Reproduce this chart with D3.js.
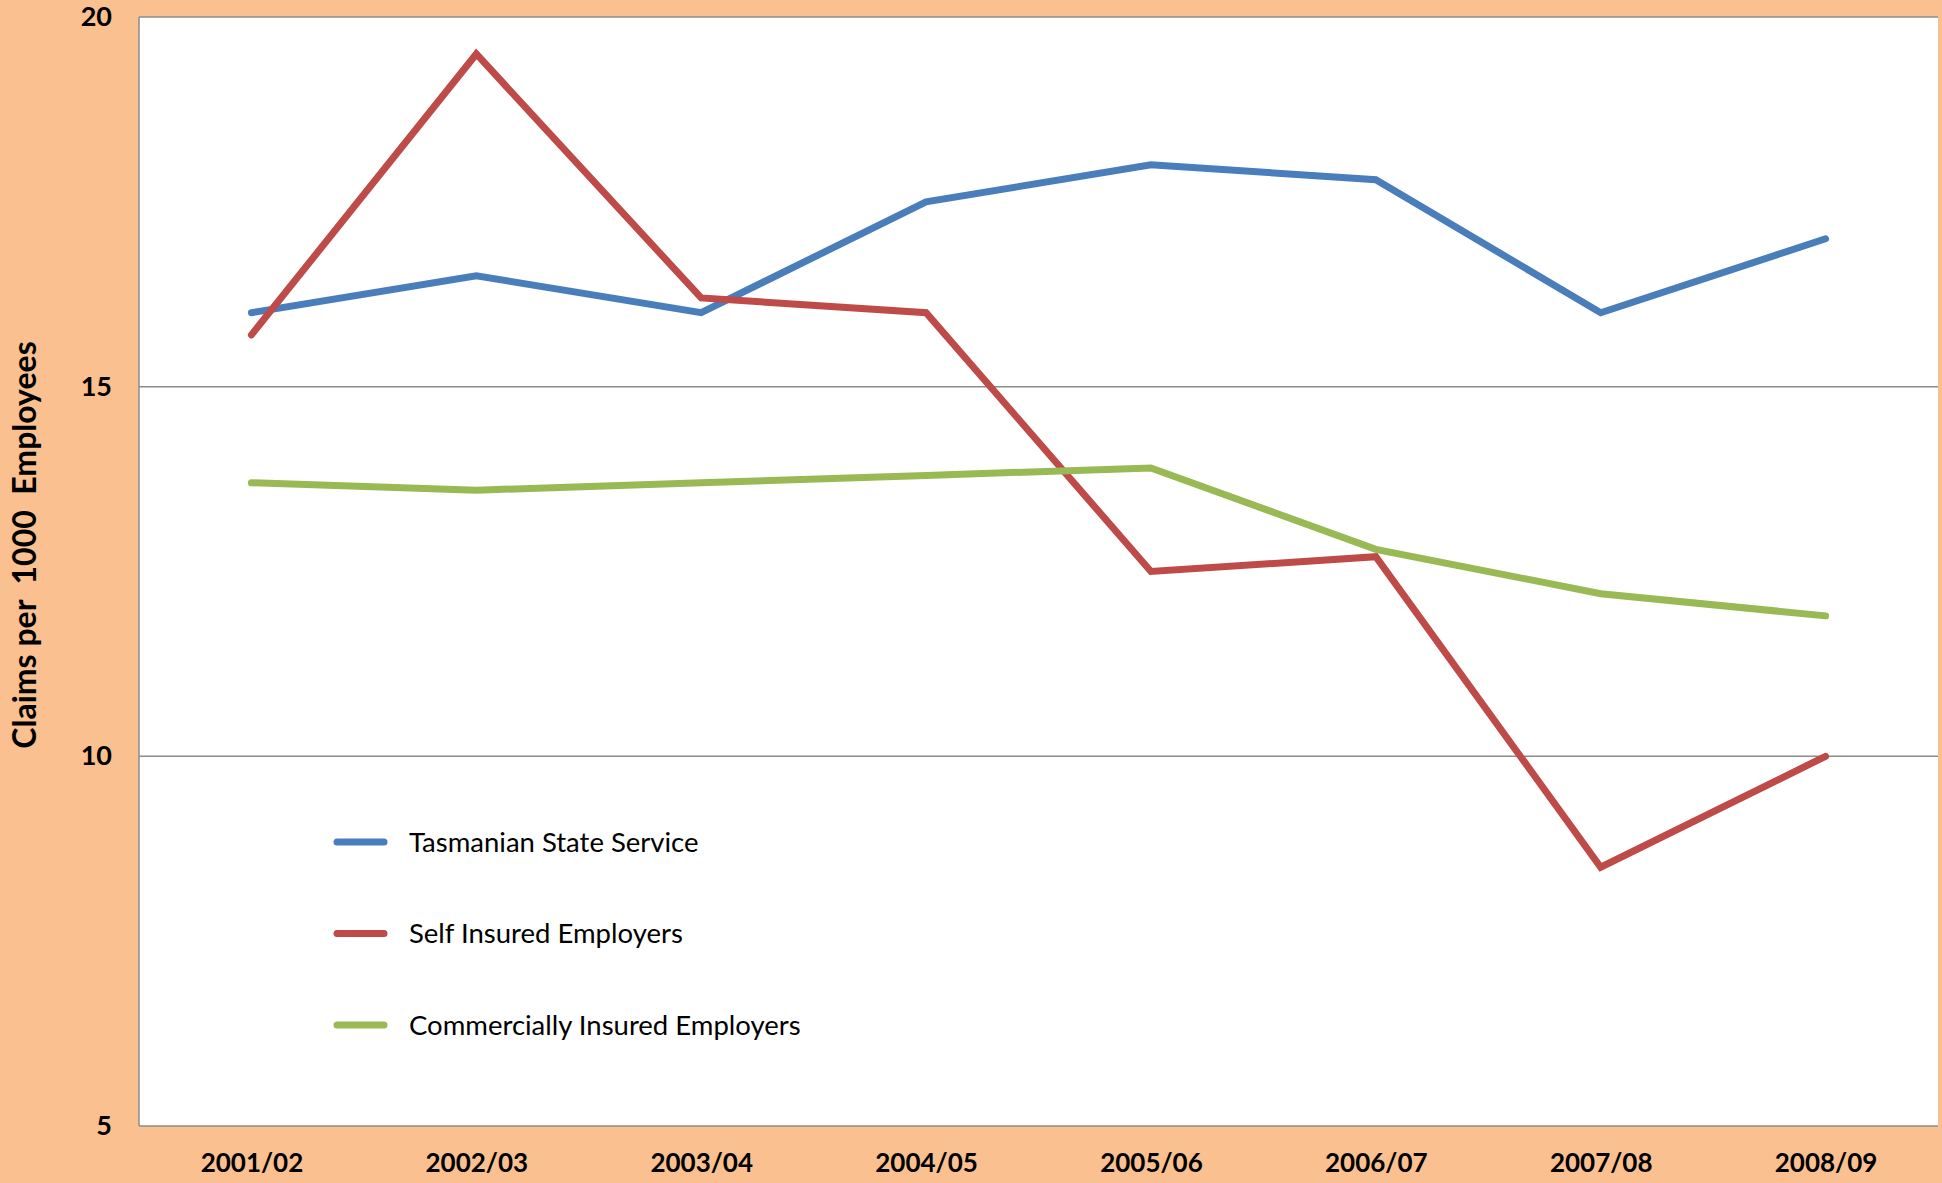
<!DOCTYPE html>
<html>
<head>
<meta charset="utf-8">
<script src="https://cdn.jsdelivr.net/npm/d3@7"></script>
<style>
  body { margin: 0; background: #fac090; }
  svg { display: block; }
  text { font-family: Lato, "Open Sans", sans-serif; fill: #000; }
</style>
</head>
<body>
<div id="chart"></div>
<script>
// data
var years = ["2001/02", "2002/03", "2003/04", "2004/05", "2005/06", "2006/07", "2007/08", "2008/09"];
var stateService = [16.0, 16.5, 16.0, 17.5, 18.0, 17.8, 16.0, 17.0];
var selfInsured = [15.7, 19.5, 16.2, 16.0, 12.5, 12.7, 8.5, 10.0];
var commercial = [13.7, 13.6, 13.7, 13.8, 13.9, 12.8, 12.2, 11.9];
var seriesNames = ["Tasmanian State Service", "Self Insured Employers", "Commercially Insured Employers"];
var yTicks = [5, 10, 15, 20];

var colors = ["#4a7ebb", "#be4b48", "#98b954"];
var allSeries = [stateService, selfInsured, commercial];

var svgWidth = 1942;
var svgHeight = 1183;
var plot = { left: 139, right: 1938, top: 17, bottom: 1126 };

var svg = d3.select("#chart")
  .append("svg")
  .attr("width", svgWidth)
  .attr("height", svgHeight);

svg.append("rect")
  .attr("width", svgWidth)
  .attr("height", svgHeight)
  .attr("fill", "#fac090");

svg.append("rect")
  .attr("x", plot.left)
  .attr("y", plot.top)
  .attr("width", plot.right - plot.left)
  .attr("height", plot.bottom - plot.top)
  .attr("fill", "#fff");

var x = d3.scalePoint()
  .domain(years)
  .range([plot.left, plot.right])
  .padding(0.5);

var y = d3.scaleLinear()
  .domain([5, 20])
  .range([plot.bottom, plot.top]);

// gridlines
svg.append("g")
  .selectAll("line")
  .data(yTicks)
  .enter()
  .append("line")
  .attr("x1", plot.left)
  .attr("x2", plot.right)
  .attr("y1", d => y(d))
  .attr("y2", d => y(d))
  .attr("stroke", "#8c8c8c")
  .attr("stroke-width", 1.5);

// left axis line
svg.append("line")
  .attr("x1", plot.left)
  .attr("x2", plot.left)
  .attr("y1", plot.top)
  .attr("y2", plot.bottom)
  .attr("stroke", "#8c8c8c")
  .attr("stroke-width", 1.5);

// y axis
var yAxis = svg.append("g")
  .attr("transform", `translate(${plot.left}, 0)`)
  .call(d3.axisLeft(y).tickValues(yTicks).tickSize(0).tickPadding(27));
yAxis.select(".domain").remove();
yAxis.selectAll("text")
  .style("font-family", "Lato, sans-serif")
  .style("font-size", "27px")
  .style("font-weight", "bold");

// x axis
var xAxis = svg.append("g")
  .attr("transform", `translate(0, ${plot.bottom})`)
  .call(d3.axisBottom(x).tickSize(0).tickPadding(28));
xAxis.select(".domain").remove();
xAxis.selectAll("text")
  .style("font-family", "Lato, sans-serif")
  .style("font-size", "26px")
  .style("font-weight", "bold");

// y title
svg.append("text")
  .attr("transform", "translate(36, 545) rotate(-90)")
  .attr("text-anchor", "middle")
  .style("font-size", "32px")
  .style("font-weight", "bold")
  .style("white-space", "pre")
  .text("Claims per  1000  Employees");

// lines
var line = d3.line()
  .x((d, i) => x(years[i]))
  .y(d => y(d));

svg.append("g")
  .selectAll("path")
  .data(allSeries)
  .enter()
  .append("path")
  .attr("d", d => line(d))
  .attr("fill", "none")
  .attr("stroke", (d, i) => colors[i])
  .attr("stroke-width", 7)
  .attr("stroke-linejoin", "miter")
  .attr("stroke-linecap", "round");

// legend
var legend = svg.append("g")
  .selectAll("g")
  .data(seriesNames)
  .enter()
  .append("g")
  .attr("transform", (d, i) => `translate(0, ${842 + i * 91.5})`);

legend.append("line")
  .attr("x1", 337)
  .attr("x2", 384)
  .attr("stroke", (d, i) => colors[i])
  .attr("stroke-width", 7)
  .attr("stroke-linecap", "round");

legend.append("text")
  .attr("x", 409)
  .attr("dy", "0.35em")
  .style("font-size", "27.5px")
  .text(d => d);
</script>
</body>
</html>
